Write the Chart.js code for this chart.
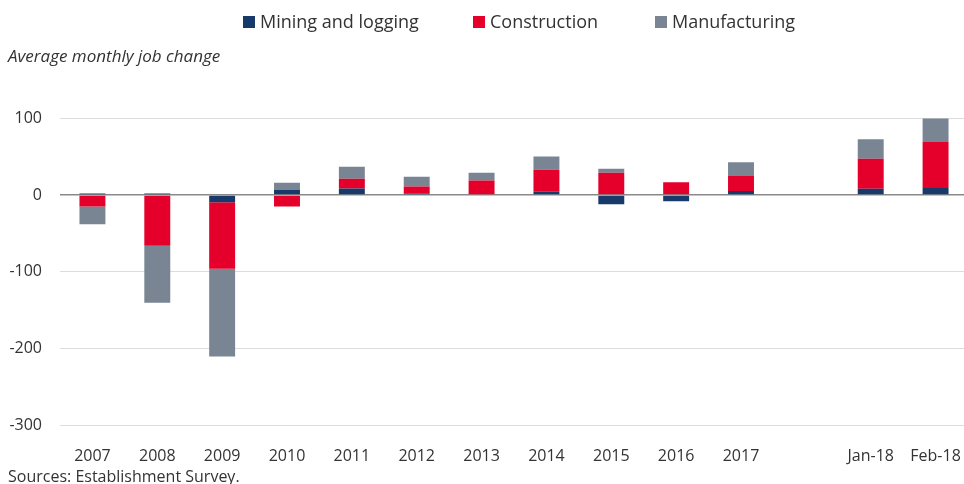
<!DOCTYPE html>
<html>
<head>
<meta charset="utf-8">
<script src="https://cdn.jsdelivr.net/npm/chart.js@4/dist/chart.umd.min.js"></script>
<style>
  body { margin: 0; background: #fff; overflow: hidden; }
  #wrap { position: relative; width: 968px; height: 484px; }
  #legend { position: absolute; top: 10px; left: 0; width: 964px; height: 24px;
    font-family: "Open Sans", sans-serif; font-size: 18px; color: #333; }
  #legend span.item { position: absolute; top: 0; line-height: 22px; white-space: nowrap; }
  #legend i { display: inline-block; width: 12px; height: 12px; margin-right: 5px; vertical-align: 0px; }
</style>
</head>
<body>
<div id="wrap">
  <canvas id="jobChart"></canvas>
  <div id="legend"></div>
</div>
<script>
// categories (blank slot separates annual averages from the monthly figures)
const labels = ['2007','2008','2009','2010','2011','2012','2013','2014','2015','2016','2017','','Jan-18','Feb-18'];

// average monthly job change, thousands
const mining        = [2, 2, -9.5, 6.5, 8.5, 1.5, 1, 4.3, -12, -8.2, 5.2, null, 8.2, 9];
const construction  = [-15, -66, -86.5, -15, 12.5, 9.5, 17.7, 28.4, 28.8, 16.4, 20.2, null, 38.8, 59.8];
const manufacturing = [-23, -74, -114, 9.5, 15.5, 12.5, 10.3, 17.2, 5.2, 0, 17.2, null, 25.4, 30.6];

const yTicks = [-300, -200, -100, 0, 100];

const series = [
  { label: 'Mining and logging', data: mining, color: '#173a6b', x: 243 },
  { label: 'Construction', data: construction, color: '#e4002b', x: 473 },
  { label: 'Manufacturing', data: manufacturing, color: '#7a8594', x: 655 }
];

// html legend, spaced like the original
const legendEl = document.getElementById('legend');
series.forEach(s => {
  const item = document.createElement('span');
  item.className = 'item';
  item.style.left = s.x + 'px';
  item.innerHTML = '<i style="background:' + s.color + '"></i>' + s.label;
  legendEl.appendChild(item);
});

const font = "'Open Sans', sans-serif";

new Chart(document.getElementById('jobChart'), {
  type: 'bar',
  data: {
    labels: labels,
    datasets: series.map(s => ({
      label: s.label,
      data: s.data,
      backgroundColor: s.color,
      barPercentage: 0.8,
      categoryPercentage: 0.5
    }))
  },
  options: {
    responsive: true,
    maintainAspectRatio: false,
    animation: false,
    layout: { padding: { top: 36, left: 8, right: 0, bottom: -3 } },
    plugins: {
      legend: { display: false },
      tooltip: { enabled: false },
      subtitle: {
        display: true,
        text: 'Average monthly job change',
        align: 'start',
        color: '#333',
        font: { family: font, size: 17, style: 'italic' },
        padding: { top: 11, bottom: 50.6 }
      },
      title: {
        display: true,
        position: 'bottom',
        text: 'Sources: Establishment Survey.',
        align: 'start',
        color: '#333',
        font: { family: font, size: 16, weight: 'normal' },
        padding: { top: 2, bottom: 0 }
      }
    },
    scales: {
      x: {
        stacked: true,
        grid: { display: false },
        border: { display: false },
        ticks: { color: '#333', font: { family: font, size: 16 }, padding: 13, maxRotation: 0, autoSkip: false },
        afterFit: s => { s.height = 40; s.paddingLeft = 0; s.paddingRight = 0; }
      },
      y: {
        stacked: true,
        min: -300,
        max: 100,
        border: { display: false },
        grid: {
          drawTicks: false,
          color: c => c.tick.value === 0 ? '#8a8a8a' : '#dcdcdc',
          lineWidth: c => c.tick.value === 0 ? 1.5 : 1
        },
        afterBuildTicks: s => { s.ticks = yTicks.map(v => ({ value: v })); },
        ticks: { color: '#333', font: { family: font, size: 16 }, padding: 18 },
        afterFit: s => { s.width = 52; }
      }
    }
  }
});
</script>
</body>
</html>
